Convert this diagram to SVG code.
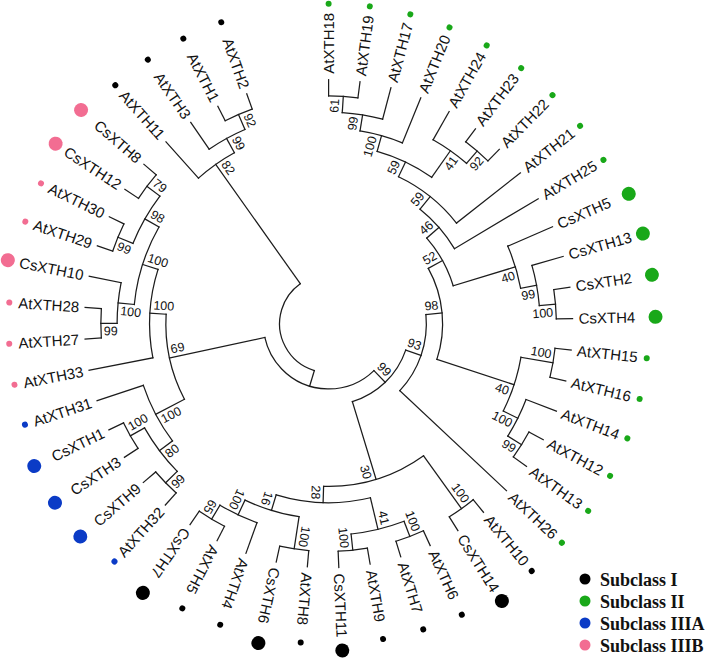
<svg xmlns="http://www.w3.org/2000/svg" width="709" height="659" viewBox="0 0 709 659">
<style>
.br path,.br circle{fill:none;stroke:#1c1c1c;stroke-width:1.25;stroke-linecap:square}
.lb{font-family:"Liberation Sans",Arial,sans-serif;font-size:15px;fill:#111}
.bs{font-family:"Liberation Sans",Arial,sans-serif;font-size:12.5px;fill:#111}
.lg{font-family:"Liberation Serif","Times New Roman",serif;font-size:18px;font-weight:bold;fill:#111}
.k{fill:#000}.g{fill:#19a819}.b{fill:#0b3bc6}.p{fill:#f26d92}
</style>
<rect width="709" height="659" fill="#fff"/>
<g transform="translate(328.6,323.7)">
<g id="branches" class="br">
<!-- arcs -->
<circle r="49" pathLength="360" stroke-dasharray="127.775 999" transform="rotate(106.9)"/>
<circle r="65.25" pathLength="360" stroke-dasharray="121.87 999" transform="rotate(45.97)"/>
<circle r="81.5" pathLength="360" stroke-dasharray="54.13 999" transform="rotate(18.9)"/>
<circle r="97.75" pathLength="360" stroke-dasharray="48.59 999" transform="rotate(-5.39)"/>
<circle r="114" pathLength="360" stroke-dasharray="47.235 999" transform="rotate(-29.01)"/>
<circle r="130.25" pathLength="360" stroke-dasharray="24.165 999" transform="rotate(-41.09)"/>
<circle r="146.5" pathLength="360" stroke-dasharray="20.58 999" transform="rotate(-51.38)"/>
<circle r="162.75" pathLength="360" stroke-dasharray="26.36 999" transform="rotate(-64.56)"/>
<circle r="179" pathLength="360" stroke-dasharray="19.425 999" transform="rotate(-74.275)"/>
<circle r="195.25" pathLength="360" stroke-dasharray="12.95 999" transform="rotate(-80.75)"/>
<circle r="211.5" pathLength="360" stroke-dasharray="11.1 999" transform="rotate(-86.3)"/>
<circle r="227.75" pathLength="360" stroke-dasharray="7.4 999" transform="rotate(-90)"/>
<circle r="211.5" pathLength="360" stroke-dasharray="11.1 999" transform="rotate(-60.4)"/>
<circle r="227.75" pathLength="360" stroke-dasharray="7.4 999" transform="rotate(-53)"/>
<circle r="195.25" pathLength="360" stroke-dasharray="12.95 999" transform="rotate(-23.4)"/>
<circle r="211.5" pathLength="360" stroke-dasharray="11.1 999" transform="rotate(-16)"/>
<circle r="227.75" pathLength="360" stroke-dasharray="7.4 999" transform="rotate(-8.6)"/>
<circle r="195.25" pathLength="360" stroke-dasharray="16.65 999" transform="rotate(9.9)"/>
<circle r="227.75" pathLength="360" stroke-dasharray="7.4 999" transform="rotate(6.2)"/>
<circle r="211.5" pathLength="360" stroke-dasharray="11.1 999" transform="rotate(21)"/>
<circle r="227.75" pathLength="360" stroke-dasharray="7.4 999" transform="rotate(28.4)"/>
<circle r="162.75" pathLength="360" stroke-dasharray="37.46 999" transform="rotate(54.3)"/>
<circle r="227.75" pathLength="360" stroke-dasharray="7.4 999" transform="rotate(50.6)"/>
<circle r="179" pathLength="360" stroke-dasharray="30.525 999" transform="rotate(76.5)"/>
<circle r="211.5" pathLength="360" stroke-dasharray="14.8 999" transform="rotate(69.1)"/>
<circle r="227.75" pathLength="360" stroke-dasharray="7.4 999" transform="rotate(65.4)"/>
<circle r="227.75" pathLength="360" stroke-dasharray="7.4 999" transform="rotate(80.2)"/>
<circle r="195.25" pathLength="360" stroke-dasharray="16.65 999" transform="rotate(98.7)"/>
<circle r="227.75" pathLength="360" stroke-dasharray="7.4 999" transform="rotate(95)"/>
<circle r="211.5" pathLength="360" stroke-dasharray="11.1 999" transform="rotate(109.8)"/>
<circle r="227.75" pathLength="360" stroke-dasharray="7.4 999" transform="rotate(117.2)"/>
<circle r="162.75" pathLength="360" stroke-dasharray="30.99 999" transform="rotate(152.35)"/>
<circle r="195.25" pathLength="360" stroke-dasharray="18.5 999" transform="rotate(143.1)"/>
<circle r="211.5" pathLength="360" stroke-dasharray="14.8 999" transform="rotate(135.7)"/>
<circle r="227.75" pathLength="360" stroke-dasharray="7.4 999" transform="rotate(132)"/>
<circle r="227.75" pathLength="360" stroke-dasharray="7.4 999" transform="rotate(146.8)"/>
<circle r="179" pathLength="360" stroke-dasharray="28.675 999" transform="rotate(169)"/>
<circle r="195.25" pathLength="360" stroke-dasharray="24.05 999" transform="rotate(185.65)"/>
<circle r="211.5" pathLength="360" stroke-dasharray="11.1 999" transform="rotate(180.1)"/>
<circle r="227.75" pathLength="360" stroke-dasharray="7.4 999" transform="rotate(176.4)"/>
<circle r="211.5" pathLength="360" stroke-dasharray="14.8 999" transform="rotate(202.3)"/>
<circle r="227.75" pathLength="360" stroke-dasharray="7.4 999" transform="rotate(198.6)"/>
<circle r="227.75" pathLength="360" stroke-dasharray="7.4 999" transform="rotate(213.4)"/>
<circle r="195.25" pathLength="360" stroke-dasharray="12.95 999" transform="rotate(228.2)"/>
<circle r="211.5" pathLength="360" stroke-dasharray="11.1 999" transform="rotate(235.6)"/>
<circle r="227.75" pathLength="360" stroke-dasharray="7.4 999" transform="rotate(243)"/>
<!-- radial branches -->
<path d="M49 0H65.25" transform="rotate(106.9)"/>
<path d="M49 0H195.25" transform="rotate(234.675)"/>
<path d="M65.25 0H81.5" transform="rotate(45.97)"/>
<path d="M65.25 0H162.75" transform="rotate(167.84)"/>
<path d="M81.5 0H97.75" transform="rotate(18.9)"/>
<path d="M81.5 0H162.75" transform="rotate(73.03)"/>
<path d="M97.75 0H114" transform="rotate(-5.39)"/>
<path d="M97.75 0H244" transform="rotate(43.2)"/>
<path d="M114 0H130.25" transform="rotate(-29.01)"/>
<path d="M114 0H195.25" transform="rotate(18.225)"/>
<path d="M130.25 0H146.5" transform="rotate(-41.09)"/>
<path d="M130.25 0H195.25" transform="rotate(-16.925)"/>
<path d="M146.5 0H162.75" transform="rotate(-51.38)"/>
<path d="M146.5 0H244" transform="rotate(-30.8)"/>
<path d="M162.75 0H179" transform="rotate(-64.56)"/>
<path d="M162.75 0H244" transform="rotate(-38.2)"/>
<path d="M179 0H195.25" transform="rotate(-74.275)"/>
<path d="M179 0H211.5" transform="rotate(-54.85)"/>
<path d="M195.25 0H211.5" transform="rotate(-80.75)"/>
<path d="M195.25 0H244" transform="rotate(-67.8)"/>
<path d="M211.5 0H227.75" transform="rotate(-86.3)"/>
<path d="M211.5 0H244" transform="rotate(-75.2)"/>
<path d="M227.75 0H244" transform="rotate(-90)"/>
<path d="M227.75 0H244" transform="rotate(-82.6)"/>
<path d="M211.5 0H244" transform="rotate(-60.4)"/>
<path d="M211.5 0H227.75" transform="rotate(-49.3)"/>
<path d="M227.75 0H244" transform="rotate(-53)"/>
<path d="M227.75 0H244" transform="rotate(-45.6)"/>
<path d="M195.25 0H244" transform="rotate(-23.4)"/>
<path d="M195.25 0H211.5" transform="rotate(-10.45)"/>
<path d="M211.5 0H244" transform="rotate(-16)"/>
<path d="M211.5 0H227.75" transform="rotate(-4.9)"/>
<path d="M227.75 0H244" transform="rotate(-8.6)"/>
<path d="M227.75 0H244" transform="rotate(-1.2)"/>
<path d="M195.25 0H227.75" transform="rotate(9.9)"/>
<path d="M195.25 0H211.5" transform="rotate(26.55)"/>
<path d="M227.75 0H244" transform="rotate(6.2)"/>
<path d="M227.75 0H244" transform="rotate(13.6)"/>
<path d="M211.5 0H244" transform="rotate(21)"/>
<path d="M211.5 0H227.75" transform="rotate(32.1)"/>
<path d="M227.75 0H244" transform="rotate(28.4)"/>
<path d="M227.75 0H244" transform="rotate(35.8)"/>
<path d="M162.75 0H227.75" transform="rotate(54.3)"/>
<path d="M162.75 0H179" transform="rotate(91.76)"/>
<path d="M227.75 0H244" transform="rotate(50.6)"/>
<path d="M227.75 0H244" transform="rotate(58)"/>
<path d="M179 0H211.5" transform="rotate(76.5)"/>
<path d="M179 0H195.25" transform="rotate(107.025)"/>
<path d="M211.5 0H227.75" transform="rotate(69.1)"/>
<path d="M211.5 0H227.75" transform="rotate(83.9)"/>
<path d="M227.75 0H244" transform="rotate(65.4)"/>
<path d="M227.75 0H244" transform="rotate(72.8)"/>
<path d="M227.75 0H244" transform="rotate(80.2)"/>
<path d="M227.75 0H244" transform="rotate(87.6)"/>
<path d="M195.25 0H227.75" transform="rotate(98.7)"/>
<path d="M195.25 0H211.5" transform="rotate(115.35)"/>
<path d="M227.75 0H244" transform="rotate(95)"/>
<path d="M227.75 0H244" transform="rotate(102.4)"/>
<path d="M211.5 0H244" transform="rotate(109.8)"/>
<path d="M211.5 0H227.75" transform="rotate(120.9)"/>
<path d="M227.75 0H244" transform="rotate(117.2)"/>
<path d="M227.75 0H244" transform="rotate(124.6)"/>
<path d="M162.75 0H195.25" transform="rotate(152.35)"/>
<path d="M162.75 0H179" transform="rotate(183.34)"/>
<path d="M195.25 0H211.5" transform="rotate(143.1)"/>
<path d="M195.25 0H244" transform="rotate(161.6)"/>
<path d="M211.5 0H227.75" transform="rotate(135.7)"/>
<path d="M211.5 0H227.75" transform="rotate(150.5)"/>
<path d="M227.75 0H244" transform="rotate(132)"/>
<path d="M227.75 0H244" transform="rotate(139.4)"/>
<path d="M227.75 0H244" transform="rotate(146.8)"/>
<path d="M227.75 0H244" transform="rotate(154.2)"/>
<path d="M179 0H244" transform="rotate(169)"/>
<path d="M179 0H195.25" transform="rotate(197.675)"/>
<path d="M195.25 0H211.5" transform="rotate(185.65)"/>
<path d="M195.25 0H211.5" transform="rotate(209.7)"/>
<path d="M211.5 0H227.75" transform="rotate(180.1)"/>
<path d="M211.5 0H244" transform="rotate(191.2)"/>
<path d="M227.75 0H244" transform="rotate(176.4)"/>
<path d="M227.75 0H244" transform="rotate(183.8)"/>
<path d="M211.5 0H227.75" transform="rotate(202.3)"/>
<path d="M211.5 0H227.75" transform="rotate(217.1)"/>
<path d="M227.75 0H244" transform="rotate(198.6)"/>
<path d="M227.75 0H244" transform="rotate(206)"/>
<path d="M227.75 0H244" transform="rotate(213.4)"/>
<path d="M227.75 0H244" transform="rotate(220.8)"/>
<path d="M195.25 0H244" transform="rotate(228.2)"/>
<path d="M195.25 0H211.5" transform="rotate(241.15)"/>
<path d="M211.5 0H244" transform="rotate(235.6)"/>
<path d="M211.5 0H227.75" transform="rotate(246.7)"/>
<path d="M227.75 0H244" transform="rotate(243)"/>
<path d="M227.75 0H244" transform="rotate(250.4)"/>
</g>
<g id="bootstrap" class="bs">
<text transform="rotate(-86.3)" x="224.75" y="-4" text-anchor="end">61</text>
<text transform="rotate(-80.75)" x="208.5" y="-4" text-anchor="end">99</text>
<text transform="rotate(-74.275)" x="192.25" y="-4" text-anchor="end">100</text>
<text transform="rotate(-49.3)" x="224.75" y="12" text-anchor="end">92</text>
<text transform="rotate(-54.85)" x="208.5" y="12" text-anchor="end">41</text>
<text transform="rotate(-64.56)" x="176" y="-4" text-anchor="end">59</text>
<text transform="rotate(-51.38)" x="159.75" y="-4" text-anchor="end">59</text>
<text transform="rotate(-41.09)" x="143.5" y="-4" text-anchor="end">46</text>
<text transform="rotate(-4.9)" x="224.75" y="12" text-anchor="end">100</text>
<text transform="rotate(-10.45)" x="208.5" y="12" text-anchor="end">99</text>
<text transform="rotate(-16.925)" x="192.25" y="12" text-anchor="end">40</text>
<text transform="rotate(-29.01)" x="127.25" y="-4" text-anchor="end">52</text>
<text transform="rotate(9.9)" x="224.75" y="-4" text-anchor="end">100</text>
<text transform="rotate(32.1)" x="224.75" y="12" text-anchor="end">99</text>
<text transform="rotate(26.55)" x="208.5" y="12" text-anchor="end">100</text>
<text transform="rotate(18.225)" x="192.25" y="12" text-anchor="end">40</text>
<text transform="rotate(-5.39)" x="111" y="-4" text-anchor="end">98</text>
<text transform="rotate(18.9)" x="94.75" y="-4" text-anchor="end">93</text>
<text transform="rotate(45.97)" x="78.5" y="-4" text-anchor="end">99</text>
<text transform="rotate(54.3)" x="224.75" y="-4" text-anchor="end">100</text>
<text transform="rotate(73.03)" x="159.75" y="12" text-anchor="end">30</text>
<text transform="rotate(91.76)" x="176" y="12" text-anchor="end">28</text>
<text transform="rotate(76.5)" x="208.5" y="-4" text-anchor="end">41</text>
<text transform="rotate(69.1)" x="224.75" y="-4" text-anchor="end">100</text>
<text transform="rotate(83.9)" x="224.75" y="12" text-anchor="end">100</text>
<text transform="rotate(107.025)" x="192.25" y="12" text-anchor="end">16</text>
<text transform="rotate(98.7)" x="224.75" y="-4" text-anchor="end">100</text>
<text transform="rotate(115.35)" x="208.5" y="12" text-anchor="end">100</text>
<text transform="rotate(120.9)" x="224.75" y="12" text-anchor="end">65</text>
<text transform="rotate(-12.16)" x="-159.75" y="-4">69</text>
<text transform="rotate(-27.65)" x="-192.25" y="12">100</text>
<text transform="rotate(-36.9)" x="-208.5" y="12">80</text>
<text transform="rotate(-44.3)" x="-224.75" y="12">99</text>
<text transform="rotate(-29.5)" x="-224.75" y="-4">100</text>
<text transform="rotate(3.34)" x="-176" y="-4">100</text>
<text transform="rotate(17.675)" x="-192.25" y="-4">100</text>
<text transform="rotate(5.65)" x="-208.5" y="12">100</text>
<text transform="rotate(0.1)" x="-224.75" y="12">99</text>
<text transform="rotate(29.7)" x="-208.5" y="-4">98</text>
<text transform="rotate(22.3)" x="-224.75" y="12">99</text>
<text transform="rotate(37.1)" x="-224.75" y="-4">79</text>
<text transform="rotate(54.675)" x="-192.25" y="-4">82</text>
<text transform="rotate(61.15)" x="-208.5" y="-4">99</text>
<text transform="rotate(66.7)" x="-224.75" y="-4">92</text>
</g>
<g id="leaves" class="lb">
<g id="AtXTH18" transform="rotate(-90)"><text x="250" dy=".35em">AtXTH18</text><circle class="g" cx="320" r="3"/></g>
<g id="AtXTH19" transform="rotate(-82.6)"><text x="250" dy=".35em">AtXTH19</text><circle class="g" cx="320" r="3"/></g>
<g id="AtXTH17" transform="rotate(-75.2)"><text x="250" dy=".35em">AtXTH17</text><circle class="g" cx="320" r="3"/></g>
<g id="AtXTH20" transform="rotate(-67.8)"><text x="250" dy=".35em">AtXTH20</text><circle class="g" cx="320" r="3"/></g>
<g id="AtXTH24" transform="rotate(-60.4)"><text x="250" dy=".35em">AtXTH24</text><circle class="g" cx="320" r="3"/></g>
<g id="AtXTH23" transform="rotate(-53)"><text x="250" dy=".35em">AtXTH23</text><circle class="g" cx="320" r="3"/></g>
<g id="AtXTH22" transform="rotate(-45.6)"><text x="250" dy=".35em">AtXTH22</text><circle class="g" cx="320" r="3"/></g>
<g id="AtXTH21" transform="rotate(-38.2)"><text x="250" dy=".35em">AtXTH21</text><circle class="g" cx="320" r="3"/></g>
<g id="AtXTH25" transform="rotate(-30.8)"><text x="250" dy=".35em">AtXTH25</text><circle class="g" cx="320" r="3"/></g>
<g id="CsXTH5" transform="rotate(-23.4)"><text x="250" dy=".35em">CsXTH5</text><circle class="g" cx="327" r="7"/></g>
<g id="CsXTH13" transform="rotate(-16)"><text x="250" dy=".35em">CsXTH13</text><circle class="g" cx="327" r="7"/></g>
<g id="CsXTH2" transform="rotate(-8.6)"><text x="250" dy=".35em">CsXTH2</text><circle class="g" cx="327" r="7"/></g>
<g id="CsXTH4" transform="rotate(-1.2)"><text x="250" dy=".35em">CsXTH4</text><circle class="g" cx="327" r="7"/></g>
<g id="AtXTH15" transform="rotate(6.2)"><text x="250" dy=".35em">AtXTH15</text><circle class="g" cx="320" r="3"/></g>
<g id="AtXTH16" transform="rotate(13.6)"><text x="250" dy=".35em">AtXTH16</text><circle class="g" cx="320" r="3"/></g>
<g id="AtXTH14" transform="rotate(21)"><text x="250" dy=".35em">AtXTH14</text><circle class="g" cx="320" r="3"/></g>
<g id="AtXTH12" transform="rotate(28.4)"><text x="250" dy=".35em">AtXTH12</text><circle class="g" cx="320" r="3"/></g>
<g id="AtXTH13" transform="rotate(35.8)"><text x="250" dy=".35em">AtXTH13</text><circle class="g" cx="320" r="3"/></g>
<g id="AtXTH26" transform="rotate(43.2)"><text x="250" dy=".35em">AtXTH26</text><circle class="g" cx="320" r="3"/></g>
<g id="AtXTH10" transform="rotate(50.6)"><text x="250" dy=".35em">AtXTH10</text><circle class="k" cx="320" r="3"/></g>
<g id="CsXTH14" transform="rotate(58)"><text x="250" dy=".35em">CsXTH14</text><circle class="k" cx="327" r="7"/></g>
<g id="AtXTH6" transform="rotate(65.4)"><text x="250" dy=".35em">AtXTH6</text><circle class="k" cx="320" r="3"/></g>
<g id="AtXTH7" transform="rotate(72.8)"><text x="250" dy=".35em">AtXTH7</text><circle class="k" cx="320" r="3"/></g>
<g id="AtXTH9" transform="rotate(80.2)"><text x="250" dy=".35em">AtXTH9</text><circle class="k" cx="320" r="3"/></g>
<g id="CsXTH11" transform="rotate(87.6)"><text x="250" dy=".35em">CsXTH11</text><circle class="k" cx="327" r="7"/></g>
<g id="AtXTH8" transform="rotate(95)"><text x="250" dy=".35em">AtXTH8</text><circle class="k" cx="320" r="3"/></g>
<g id="CsXTH6" transform="rotate(102.4)"><text x="250" dy=".35em">CsXTH6</text><circle class="k" cx="327" r="7"/></g>
<g id="AtXTH4" transform="rotate(109.8)"><text x="250" dy=".35em">AtXTH4</text><circle class="k" cx="320" r="3"/></g>
<g id="AtXTH5" transform="rotate(117.2)"><text x="250" dy=".35em">AtXTH5</text><circle class="k" cx="320" r="3"/></g>
<g id="CsXTH7" transform="rotate(124.6)"><text x="250" dy=".35em">CsXTH7</text><circle class="k" cx="327" r="7"/></g>
<g id="AtXTH32" transform="rotate(132)"><text transform="rotate(180)" x="-250" dy=".35em" text-anchor="end">AtXTH32</text><circle class="b" cx="320" r="3"/></g>
<g id="CsXTH9" transform="rotate(139.4)"><text transform="rotate(180)" x="-250" dy=".35em" text-anchor="end">CsXTH9</text><circle class="b" cx="327" r="7"/></g>
<g id="CsXTH3" transform="rotate(146.8)"><text transform="rotate(180)" x="-250" dy=".35em" text-anchor="end">CsXTH3</text><circle class="b" cx="327" r="7"/></g>
<g id="CsXTH1" transform="rotate(154.2)"><text transform="rotate(180)" x="-250" dy=".35em" text-anchor="end">CsXTH1</text><circle class="b" cx="327" r="7"/></g>
<g id="AtXTH31" transform="rotate(161.6)"><text transform="rotate(180)" x="-250" dy=".35em" text-anchor="end">AtXTH31</text><circle class="b" cx="320" r="3"/></g>
<g id="AtXTH33" transform="rotate(169)"><text transform="rotate(180)" x="-250" dy=".35em" text-anchor="end">AtXTH33</text><circle class="p" cx="320" r="3"/></g>
<g id="AtXTH27" transform="rotate(176.4)"><text transform="rotate(180)" x="-250" dy=".35em" text-anchor="end">AtXTH27</text><circle class="p" cx="320" r="3"/></g>
<g id="AtXTH28" transform="rotate(183.8)"><text transform="rotate(180)" x="-250" dy=".35em" text-anchor="end">AtXTH28</text><circle class="p" cx="320" r="3"/></g>
<g id="CsXTH10" transform="rotate(191.2)"><text transform="rotate(180)" x="-250" dy=".35em" text-anchor="end">CsXTH10</text><circle class="p" cx="327" r="7"/></g>
<g id="AtXTH29" transform="rotate(198.6)"><text transform="rotate(180)" x="-250" dy=".35em" text-anchor="end">AtXTH29</text><circle class="p" cx="320" r="3"/></g>
<g id="AtXTH30" transform="rotate(206)"><text transform="rotate(180)" x="-250" dy=".35em" text-anchor="end">AtXTH30</text><circle class="p" cx="320" r="3"/></g>
<g id="CsXTH12" transform="rotate(213.4)"><text transform="rotate(180)" x="-250" dy=".35em" text-anchor="end">CsXTH12</text><circle class="p" cx="327" r="7"/></g>
<g id="CsXTH8" transform="rotate(220.8)"><text transform="rotate(180)" x="-250" dy=".35em" text-anchor="end">CsXTH8</text><circle class="p" cx="327" r="7"/></g>
<g id="AtXTH11" transform="rotate(228.2)"><text transform="rotate(180)" x="-250" dy=".35em" text-anchor="end">AtXTH11</text><circle class="k" cx="320" r="3"/></g>
<g id="AtXTH3" transform="rotate(235.6)"><text transform="rotate(180)" x="-250" dy=".35em" text-anchor="end">AtXTH3</text><circle class="k" cx="320" r="3"/></g>
<g id="AtXTH1" transform="rotate(243)"><text transform="rotate(180)" x="-250" dy=".35em" text-anchor="end">AtXTH1</text><circle class="k" cx="320" r="3"/></g>
<g id="AtXTH2" transform="rotate(250.4)"><text transform="rotate(180)" x="-250" dy=".35em" text-anchor="end">AtXTH2</text><circle class="k" cx="320" r="3"/></g>
</g>
</g>
<g id="legend" class="lg">
<circle class="k" cx="585" cy="579" r="5.5"/><text x="600" y="585.5">Subclass I</text>
<circle class="g" cx="585" cy="601" r="5.5"/><text x="600" y="607.5">Subclass II</text>
<circle class="b" cx="585" cy="623" r="5.5"/><text x="600" y="629.5">Subclass IIIA</text>
<circle class="p" cx="585" cy="645" r="5.5"/><text x="600" y="651.5">Subclass IIIB</text>
</g>
</svg>
